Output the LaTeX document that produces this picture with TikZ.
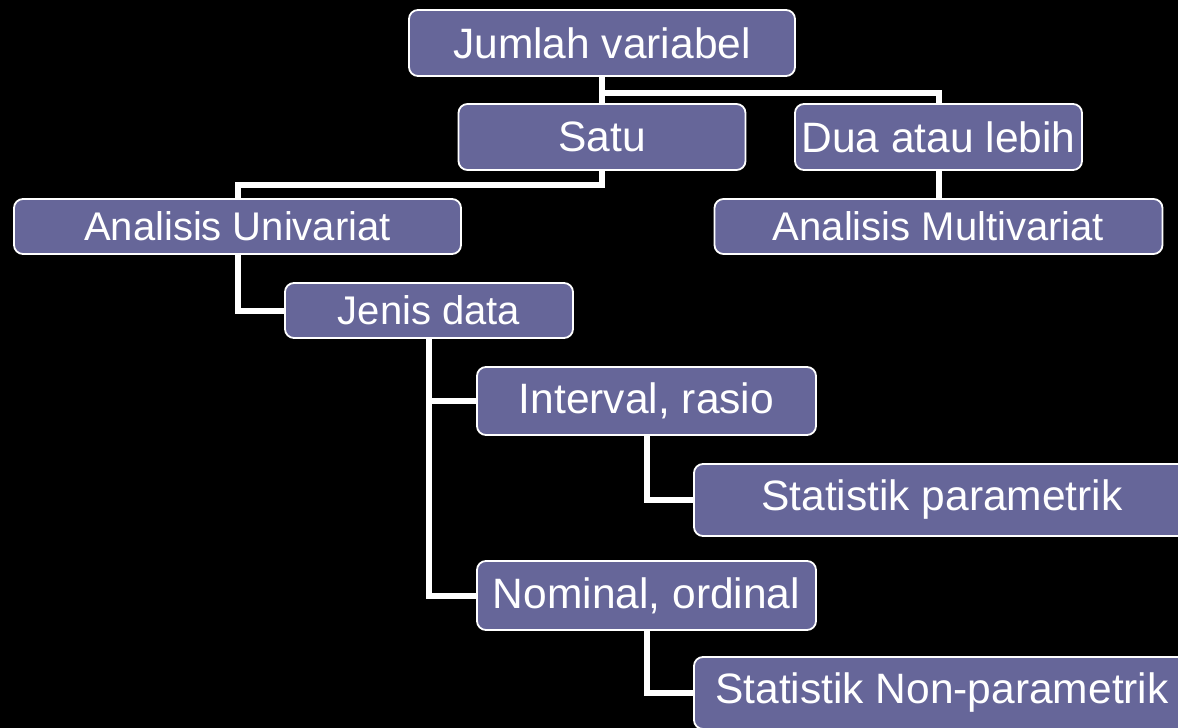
\documentclass[tikz,border=0pt]{standalone}
\usepackage{fontspec}
\setmainfont{Liberation Sans}
\definecolor{boxfill}{RGB}{102,102,153}
\pgfdeclarelayer{canvas}
\pgfdeclarelayer{back}
\pgfsetlayers{canvas,back,main}
\tikzset{
  treebox/.style={draw=white, line width=1.8pt, fill=boxfill, rounded corners=9pt,
    text=white, inner sep=0pt, font=\fontsize{42.5}{48}\selectfont, anchor=center},
  smallbox/.style={treebox, font=\fontsize{40}{46}\selectfont},
  link/.style={draw=white, line width=6pt}
}
\begin{document}
\begin{tikzpicture}[x=1pt,y=-1pt]
\useasboundingbox (0,0) rectangle (1178,728);
\clip (0,0) rectangle (1178,728);
\begin{pgfonlayer}{canvas}
\fill[black] (0,0) rectangle (1178,728);
\end{pgfonlayer}
% nodes
\node[treebox, minimum width=386pt, minimum height=66pt] (jv) at (602,43) {Jumlah variabel};
\node[treebox, minimum width=287pt, minimum height=66pt] (satu) at (602,137) {Satu};
\node[treebox, minimum width=287pt, minimum height=66pt] (dua) at (938.5,137) {Dua atau lebih};
\node[smallbox, minimum width=447pt, minimum height=55pt] (au) at (237.5,226.5) {Analisis Univariat};
\node[smallbox, minimum width=448pt, minimum height=55pt] (am) at (938.5,226.5) {Analisis Multivariat};
\node[smallbox, minimum width=288pt, minimum height=55pt] (jd) at (429,310.5) {Jenis data};
\node[treebox, minimum width=339pt, minimum height=68pt] (ir) at (646.5,401) {Interval, rasio};
\node[treebox, minimum width=496pt, minimum height=72pt] (sp) at (942,500) {Statistik parametrik};
\node[treebox, minimum width=339pt, minimum height=69pt] (no) at (646.5,595.5) {Nominal, ordinal};
\node[treebox, minimum width=496pt, minimum height=72pt] (snp) at (942,693) {Statistik Non-parametrik};
% connectors (behind boxes)
\begin{pgfonlayer}{back}
\path[link] (jv.south) -- (satu.north);
\path[link] (jv.south) -- ++(0,16) -| (dua.north);
\path[link] (satu.south) -- ++(0,14) -| (au.north);
\path[link] (dua.south) -- (am.north);
\path[link] (au.south) |- (jd.west);
\path[link] (jd.south) |- (ir.west);
\path[link] (jd.south) |- (no.west);
\path[link] (ir.south) |- (sp.west);
\path[link] (no.south) |- (snp.west);
\end{pgfonlayer}
\end{tikzpicture}
\end{document}
